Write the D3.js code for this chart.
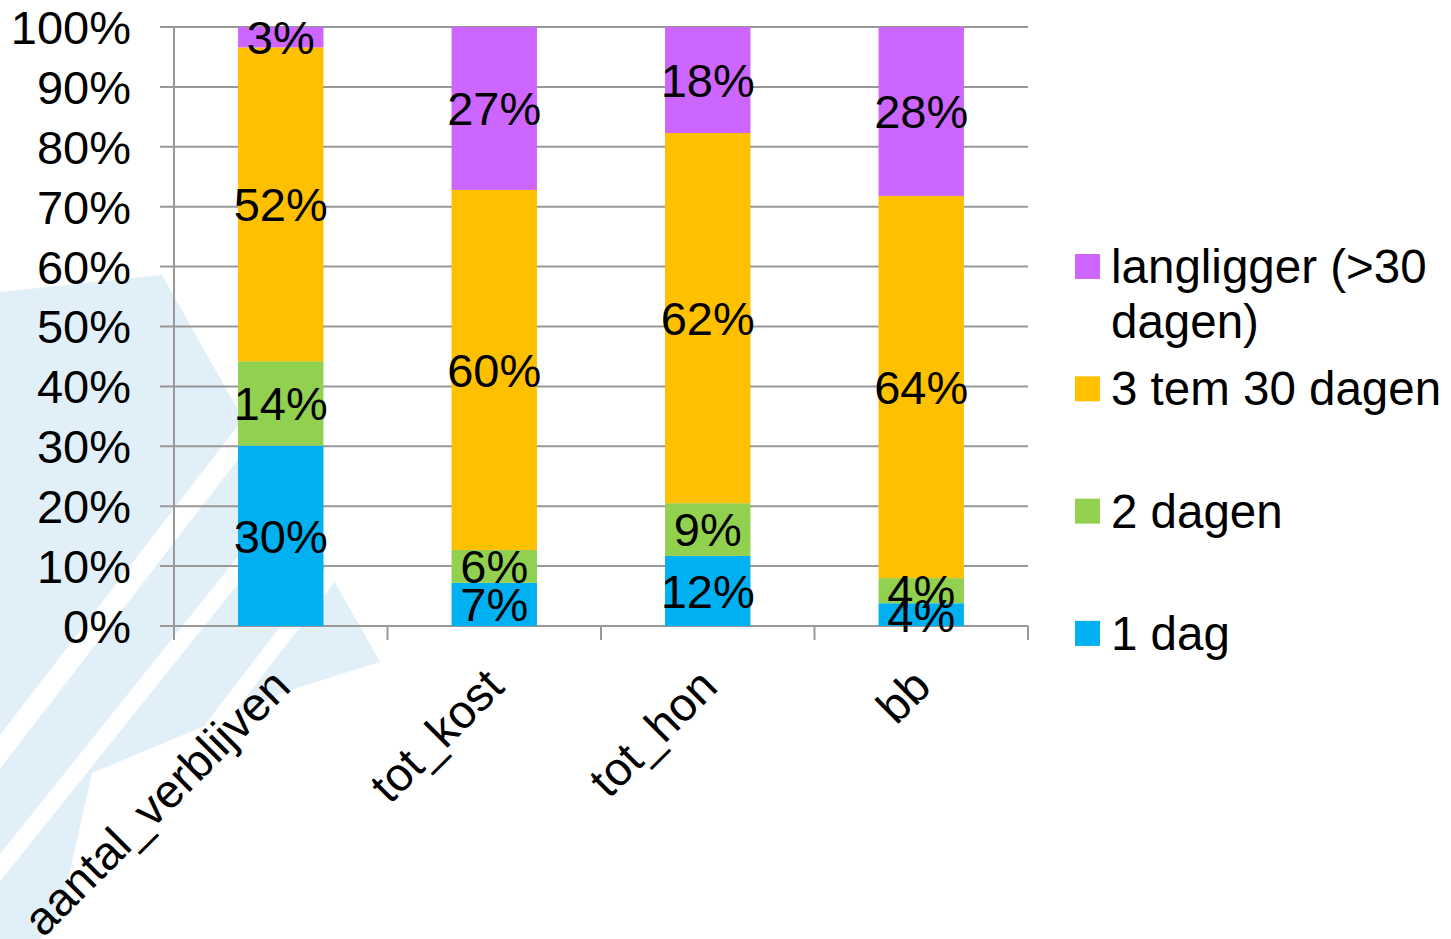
<!DOCTYPE html>
<html>
<head>
<meta charset="utf-8">
<script src="https://cdn.jsdelivr.net/npm/d3@7"></script>
<style>
  html, body { margin: 0; padding: 0; background: #ffffff; }
  svg { display: block; font-family: "Liberation Sans", Arial, sans-serif; }
</style>
</head>
<body>
<svg id="chart" width="1451" height="939"></svg>
<script>
// Categories along the x axis
const categories = ["aantal_verblijven", "tot_kost", "tot_hon", "bb"];

// Share per duration class (percent), bottom to top of each stack
const dag1       = [30.1, 7.2, 11.7, 3.8];
const dagen2     = [14.1, 5.5, 8.8, 4.2];
const dagen3tm30 = [52.4, 60.1, 61.8, 63.8];
const langligger = [3.4, 27.2, 17.7, 28.2];

const seriesNames  = ["1 dag", "2 dagen", "3 tem 30 dagen", "langligger (>30 dagen)"];
const seriesValues = [dag1, dagen2, dagen3tm30, langligger];
const seriesColors = ["#00B0F0", "#92D050", "#FFC000", "#CC66FF"];

// Legend lines (wrapped text), top entry first
const legendLines = [["langligger (>30", "dagen)"], ["3 tem 30 dagen"], ["2 dagen"], ["1 dag"]];

// Y-axis ticks
const yTicks = [0, 0.1, 0.2, 0.3, 0.4, 0.5, 0.6, 0.7, 0.8, 0.9, 1.0];

const svg = d3.select("#chart");
const FONT = 47;
const LEGEND_FONT = 47.5;

// ---- faint background logo ----
const bg = svg.append("g").attr("class", "logo");
const clip = svg.append("defs").append("clipPath").attr("id", "logoClip");
const logoShape = "M0,292 L162,275 L380,662 L290,690 L92,773 L55,939 L0,939 Z";
clip.append("path").attr("d", logoShape);
bg.append("path").attr("d", logoShape).attr("fill", "#e1eff9");
const stripeG = bg.append("g").attr("clip-path", "url(#logoClip)");
// white gaps between the logo's diagonal bands: [x at y=939, width, slope]
[[-360, 20, 2.0], [-157, 26, 1.3], [-68, 22, 1.25], [40, 20, 1.3]].forEach(([xb, w, s]) => {
  const dx = (939 - 250) / s;
  stripeG.append("path")
    .attr("d", `M${xb},939 L${xb + w},939 L${xb + w + dx},250 L${xb + dx},250 Z`)
    .attr("fill", "#ffffff");
});

// ---- scales ----
const x = d3.scaleBand()
  .domain(categories)
  .range([174, 1028])
  .paddingInner(0.6)
  .paddingOuter(0.3);

const y = d3.scaleLinear().domain([0, 1]).range([626, 27]);

// ---- data stacking (normalised to 100%) ----
const rows = categories.map((c, i) => {
  const r = { cat: c };
  seriesNames.forEach((s, k) => { r[s] = seriesValues[k][i]; });
  return r;
});
const stacked = d3.stack().keys(seriesNames).offset(d3.stackOffsetExpand)(rows);

// ---- gridlines ----
const gridColor = "#989898";
svg.append("g")
  .selectAll("line")
  .data(yTicks)
  .join("line")
  .attr("x1", 160).attr("x2", 1028)
  .attr("y1", d => y(d)).attr("y2", d => y(d))
  .attr("stroke", gridColor).attr("stroke-width", 2);

// vertical axis line
svg.append("line")
  .attr("x1", 174).attr("x2", 174)
  .attr("y1", y(1)).attr("y2", y(0))
  .attr("stroke", gridColor).attr("stroke-width", 2);

// category boundary tick marks on the bottom axis
const tickXs = [174].concat(categories.map(c => x(c) + x.bandwidth() / 2 + x.step() / 2));
svg.append("g")
  .selectAll("line")
  .data(tickXs)
  .join("line")
  .attr("x1", d => d).attr("x2", d => d)
  .attr("y1", y(0)).attr("y2", y(0) + 14)
  .attr("stroke", gridColor).attr("stroke-width", 2);

// ---- bars ----
const barG = svg.append("g");
stacked.forEach((layer, k) => {
  barG.append("g")
    .attr("fill", seriesColors[k])
    .selectAll("rect")
    .data(layer)
    .join("rect")
    .attr("x", d => x(d.data.cat))
    .attr("width", x.bandwidth())
    .attr("y", d => y(d[1]))
    .attr("height", d => y(d[0]) - y(d[1]));
});

// ---- data labels ----
const labelG = svg.append("g")
  .attr("font-size", FONT)
  .attr("text-anchor", "middle")
  .attr("fill", "#000000");
stacked.forEach((layer, k) => {
  labelG.append("g")
    .selectAll("text")
    .data(layer)
    .join("text")
    .attr("x", d => x(d.data.cat) + x.bandwidth() / 2)
    .attr("y", d => y((d[0] + d[1]) / 2))
    .attr("dy", "0.36em")
    .text(d => Math.round(d.data[seriesNames[k]]) + "%");
});

// ---- y tick labels ----
svg.append("g")
  .attr("font-size", FONT)
  .attr("text-anchor", "end")
  .selectAll("text")
  .data(yTicks)
  .join("text")
  .attr("x", 131)
  .attr("y", d => y(d))
  .attr("dy", "0.36em")
  .text(d => d3.format(".0%")(d));

// ---- category labels (rotated) ----
svg.append("g")
  .attr("font-size", FONT)
  .attr("text-anchor", "end")
  .selectAll("text")
  .data(categories)
  .join("text")
  .attr("transform", d => `translate(${x(d) + x.bandwidth() / 2},677) rotate(-45)`)
  .attr("dy", "0.36em")
  .text(d => d);

// ---- legend ----
const legend = svg.append("g").attr("font-size", LEGEND_FONT);
const legendColors = seriesColors.slice().reverse();
legendLines.forEach((lines, i) => {
  const cy = 266.5 + i * 122.3;
  legend.append("rect")
    .attr("x", 1075).attr("y", cy - 12.5)
    .attr("width", 25).attr("height", 25)
    .attr("fill", legendColors[i]);
  const t = legend.append("text").attr("x", 1111).attr("y", cy + 16.5);
  lines.forEach((ln, j) => {
    t.append("tspan").attr("x", 1111).attr("dy", j === 0 ? 0 : 55).text(ln);
  });
});
</script>
</body>
</html>
